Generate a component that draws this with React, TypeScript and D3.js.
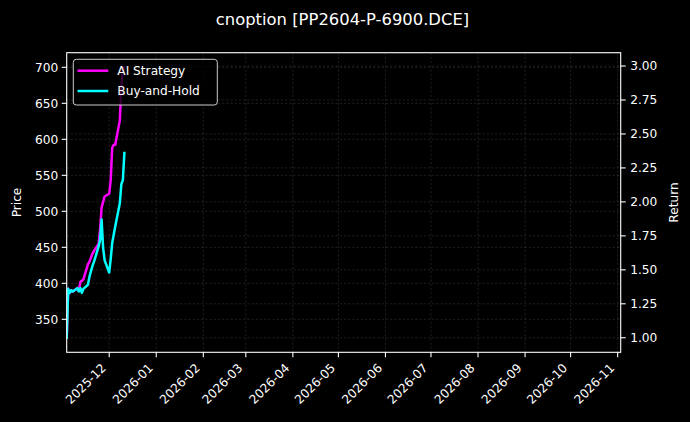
import React from "react";
import * as d3 from "d3";

const dates = [
  "2025-11-03", "2025-11-04", "2025-11-05", "2025-11-06", "2025-11-07",
  "2025-11-10", "2025-11-11", "2025-11-12", "2025-11-13", "2025-11-14",
  "2025-11-17", "2025-11-18", "2025-11-19", "2025-11-20", "2025-11-21",
  "2025-11-24", "2025-11-25", "2025-11-26", "2025-11-27", "2025-11-28",
  "2025-12-01", "2025-12-02", "2025-12-03", "2025-12-04", "2025-12-05",
  "2025-12-08", "2025-12-09", "2025-12-10", "2025-12-11",
];
const aiStrategy = [
  1.0, 1.36, 1.33, 1.35, 1.34,
  1.365, 1.345, 1.41, 1.42, 1.43,
  1.54, 1.56, 1.59, 1.62, 1.64,
  1.69, 1.8, 1.96, 2.0, 2.04,
  2.06, 2.16, 2.4, 2.42, 2.42,
  2.6, 2.85, 2.97, 2.99,
];
const buyAndHold = [
  1.0, 1.36, 1.33, 1.35, 1.34,
  1.365, 1.34, 1.365, 1.33, 1.36,
  1.39, 1.45, 1.49, 1.53, 1.56,
  1.67, 1.72, 1.87, 1.66, 1.57,
  1.48, 1.58, 1.7, 1.76, 1.82,
  1.99, 2.13, 2.16, 2.36,
];
const xLimits = ["2025-11-03", "2026-11-03"];
const priceLimits = [304.2, 720.3];
const returnLimits = [0.893, 3.098];
const priceTicks = [350, 400, 450, 500, 550, 600, 650, 700];
const returnTicks = [1.0, 1.25, 1.5, 1.75, 2.0, 2.25, 2.5, 2.75, 3.0];
const seriesNames = ["AI Strategy", "Buy-and-Hold"];
const seriesColors = ["#ff00ff", "#00ffff"];
const title = "cnoption [PP2604-P-6900.DCE]";

const W = 690;
const H = 422;
const L = 66.7;
const R = 620.7;
const T = 52.7;
const B = 352.3;
const FONT = "'DejaVu Sans', sans-serif";
const FS = 12.2;

export default function App() {
  const parse = d3.utcParse("%Y-%m-%d");
  const x = d3
    .scaleUtc()
    .domain(xLimits.map((d) => parse(d) as Date))
    .range([L, R]);
  const yL = d3.scaleLinear().domain(priceLimits).range([B, T]);
  const yR = d3.scaleLinear().domain(returnLimits).range([B, T]);
  const monthTicks = d3.utcMonth.range(parse("2025-12-01") as Date, parse("2026-11-02") as Date);
  const fmt = d3.utcFormat("%Y-%m");

  const series = [aiStrategy, buyAndHold].map((vals) =>
    vals.map((v, i) => ({ d: parse(dates[i]) as Date, v }))
  );
  const line = d3
    .line<{ d: Date; v: number }>()
    .x((p) => x(p.d))
    .y((p) => yR(p.v));

  const gridStyle = {
    stroke: "#8a8a8a",
    strokeOpacity: 0.38,
    strokeWidth: 0.6,
    strokeDasharray: "2.2,2",
  };

  return (
    <svg
      width={W}
      height={H}
      style={{ position: "absolute", left: 0, top: 0, background: "#000" }}
      fontFamily={FONT}
    >
      <rect x={0} y={0} width={W} height={H} fill="#000" />
      <defs>
        <clipPath id="plotClip">
          <rect x={L} y={T} width={R - L} height={B - T} />
        </clipPath>
      </defs>
      <g>
        {monthTicks.map((t, i) => (
          <line key={"gx" + i} x1={x(t)} x2={x(t)} y1={T} y2={B} {...gridStyle} />
        ))}
        {priceTicks.map((t, i) => (
          <line key={"gl" + i} x1={L} x2={R} y1={yL(t)} y2={yL(t)} {...gridStyle} />
        ))}
        {returnTicks.map((t, i) => (
          <line key={"gr" + i} x1={L} x2={R} y1={yR(t)} y2={yR(t)} {...gridStyle} />
        ))}
      </g>
      <g clipPath="url(#plotClip)">
        {series.map((s, i) => (
          <path
            key={"s" + i}
            d={line(s) || ""}
            fill="none"
            stroke={seriesColors[i]}
            strokeWidth={2.5}
            strokeLinejoin="round"
            strokeLinecap="square"
          />
        ))}
      </g>
      <rect x={L} y={T} width={R - L} height={B - T} fill="none" stroke="#fff" strokeWidth={1.1} />
      <g>
        {priceTicks.map((t, i) => (
          <g key={"lt" + i}>
            <line x1={L - 5} x2={L} y1={yL(t)} y2={yL(t)} stroke="#fff" strokeWidth={1.1} />
            <text x={L - 8.5} y={yL(t)} dy="0.36em" textAnchor="end" fill="#fff" fontSize={FS}>
              {t}
            </text>
          </g>
        ))}
        <text
          transform={`translate(20.5, ${(T + B) / 2}) rotate(-90)`}
          textAnchor="middle"
          fill="#fff"
          fontSize={FS}
        >
          Price
        </text>
      </g>
      <g>
        {returnTicks.map((t, i) => (
          <g key={"rt" + i}>
            <line x1={R} x2={R + 5} y1={yR(t)} y2={yR(t)} stroke="#fff" strokeWidth={1.1} />
            <text x={R + 9.5} y={yR(t)} dy="0.36em" textAnchor="start" fill="#fff" fontSize={FS}>
              {t.toFixed(2)}
            </text>
          </g>
        ))}
        <text
          transform={`translate(678, ${(T + B) / 2}) rotate(-90)`}
          textAnchor="middle"
          fill="#fff"
          fontSize={FS}
        >
          Return
        </text>
      </g>
      <g>
        {monthTicks.map((t, i) => (
          <g key={"xt" + i}>
            <line x1={x(t)} x2={x(t)} y1={B} y2={B + 5} stroke="#fff" strokeWidth={1.1} />
            <text
              transform={`translate(${x(t) - 2.5}, ${B + 16.5}) rotate(-45)`}
              textAnchor="end"
              fill="#fff"
              fontSize={FS}
            >
              {fmt(t)}
            </text>
          </g>
        ))}
      </g>
      <g>
        <rect
          x={73.3}
          y={59.3}
          width={144}
          height={45.7}
          rx={3}
          fill="#000"
          fillOpacity={0.8}
          stroke="#cccccc"
          strokeWidth={1}
        />
        {seriesNames.map((n, i) => (
          <g key={"lg" + i}>
            <line
              x1={77.5}
              x2={108.3}
              y1={70.7 + i * 20.3}
              y2={70.7 + i * 20.3}
              stroke={seriesColors[i]}
              strokeWidth={2.5}
            />
            <text x={117.3} y={70.7 + i * 20.3} dy="0.36em" fill="#fff" fontSize={FS}>
              {n}
            </text>
          </g>
        ))}
      </g>
      <text x={342.5} y={24.5} textAnchor="middle" fill="#fff" fontSize={16.4}>
        {title}
      </text>
    </svg>
  );
}
